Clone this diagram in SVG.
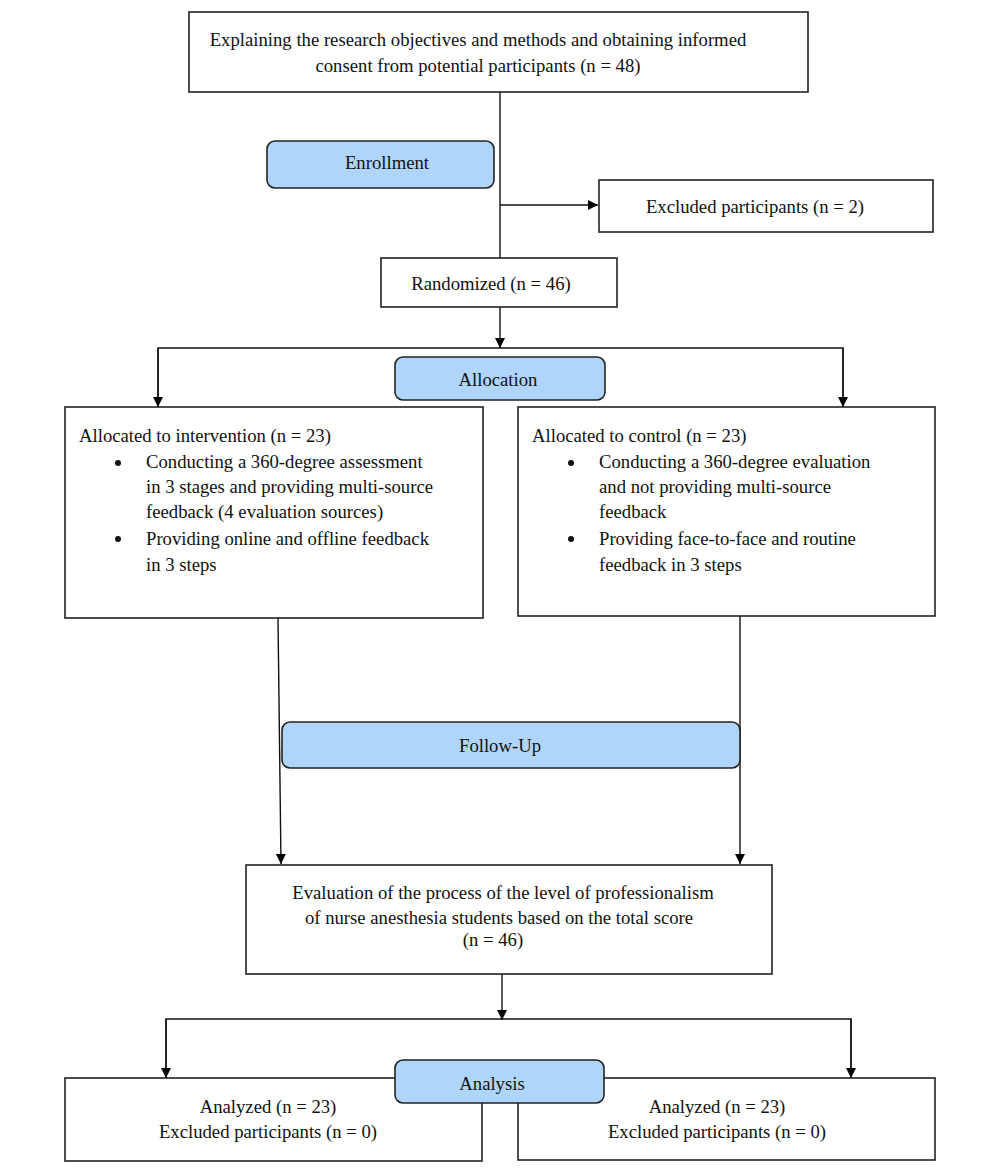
<svg xmlns="http://www.w3.org/2000/svg" width="1000" height="1169" viewBox="0 0 1000 1169">
<defs>
<marker id="ah" viewBox="0 0 10 10" refX="10" refY="5" markerWidth="10" markerHeight="10" markerUnits="userSpaceOnUse" orient="auto">
<path d="M0,0 L10,5 L0,10 Z" fill="#000"/>
</marker>
</defs>
<style>
.box{fill:#fff;stroke:#222;stroke-width:1.6}
.stage{fill:#b0d5fa;stroke:#222;stroke-width:1.6}
.t{font-family:"Liberation Serif","DejaVu Serif",serif;font-size:18.7px;fill:#111}
.m{text-anchor:middle}
.c{fill:none;stroke:#111;stroke-width:1.4}
</style>
<rect width="1000" height="1169" fill="#fff"/>
<g id="connectors">
<line class="c" x1="500" y1="92" x2="500" y2="258"/>
<line class="c" x1="500" y1="205" x2="598" y2="205" marker-end="url(#ah)"/>
<line class="c" x1="500" y1="307" x2="500" y2="348" marker-end="url(#ah)"/>
<polyline class="c" points="158,407 158,348 843,348 843,407"/>
<line class="c" x1="158" y1="348" x2="158" y2="407" marker-end="url(#ah)"/>
<line class="c" x1="843" y1="348" x2="843" y2="407" marker-end="url(#ah)"/>
<line class="c" x1="278" y1="618" x2="281" y2="864" marker-end="url(#ah)"/>
<line class="c" x1="740" y1="616" x2="740" y2="864" marker-end="url(#ah)"/>
<line class="c" x1="502" y1="974" x2="502" y2="1020" marker-end="url(#ah)"/>
<polyline class="c" points="166,1078 166,1019 851,1019 851,1078"/>
<line class="c" x1="166" y1="1019" x2="166" y2="1078" marker-end="url(#ah)"/>
<line class="c" x1="851" y1="1019" x2="851" y2="1078" marker-end="url(#ah)"/>
</g>
<g id="consent">
<rect class="box" x="189" y="12" width="619" height="80"/>
<text class="t m" x="478" y="46">Explaining the research objectives and methods and obtaining informed</text>
<text class="t m" x="478" y="72">consent from potential participants (n = 48)</text>
</g>
<g id="enrollment">
<rect class="stage" x="267" y="141" width="227" height="47" rx="8"/>
<text class="t m" x="387" y="169">Enrollment</text>
</g>
<g id="excluded">
<rect class="box" x="599" y="180" width="334" height="52"/>
<text class="t m" x="755" y="213">Excluded participants (n = 2)</text>
</g>
<g id="randomized">
<rect class="box" x="381" y="258" width="236" height="49"/>
<text class="t m" x="491" y="290">Randomized (n = 46)</text>
</g>
<g id="allocation">
<rect class="stage" x="395" y="357" width="210" height="43" rx="8"/>
<text class="t m" x="498" y="386">Allocation</text>
</g>
<g id="intervention">
<rect class="box" x="65" y="407" width="418" height="211"/>
<text class="t" x="79" y="442">Allocated to intervention (n = 23)</text>
<circle cx="118" cy="463" r="3" fill="#111"/>
<text class="t" x="146" y="468">Conducting a 360-degree assessment</text>
<text class="t" x="146" y="493">in 3 stages and providing multi-source</text>
<text class="t" x="146" y="518">feedback (4 evaluation sources)</text>
<circle cx="118" cy="539" r="3" fill="#111"/>
<text class="t" x="146" y="545">Providing online and offline feedback</text>
<text class="t" x="146" y="571">in 3 steps</text>
</g>
<g id="control">
<rect class="box" x="518" y="407" width="417" height="209"/>
<text class="t" x="532" y="442">Allocated to control (n = 23)</text>
<circle cx="571" cy="463" r="3" fill="#111"/>
<text class="t" x="599" y="468">Conducting a 360-degree evaluation</text>
<text class="t" x="599" y="493">and not providing multi-source</text>
<text class="t" x="599" y="518">feedback</text>
<circle cx="571" cy="539" r="3" fill="#111"/>
<text class="t" x="599" y="545">Providing face-to-face and routine</text>
<text class="t" x="599" y="571">feedback in 3 steps</text>
</g>
<g id="followup">
<rect class="stage" x="282" y="722" width="458" height="46" rx="8"/>
<text class="t m" x="500" y="752">Follow-Up</text>
</g>
<g id="evaluation">
<rect class="box" x="246" y="865" width="526" height="109"/>
<text class="t m" x="503" y="899">Evaluation of the process of the level of professionalism</text>
<text class="t m" x="499" y="924">of nurse anesthesia students based on the total score</text>
<text class="t m" x="493" y="946">(n = 46)</text>
</g>
<g id="analyzed-left">
<rect class="box" x="65" y="1078" width="417" height="83"/>
<text class="t m" x="268" y="1113">Analyzed (n = 23)</text>
<text class="t m" x="268" y="1138">Excluded participants (n = 0)</text>
</g>
<g id="analyzed-right">
<rect class="box" x="518" y="1078" width="417" height="82"/>
<text class="t m" x="717" y="1113">Analyzed (n = 23)</text>
<text class="t m" x="717" y="1138">Excluded participants (n = 0)</text>
</g>
<g id="analysis">
<rect class="stage" x="395" y="1060" width="209" height="43" rx="8"/>
<text class="t m" x="492" y="1090">Analysis</text>
</g>
</svg>
